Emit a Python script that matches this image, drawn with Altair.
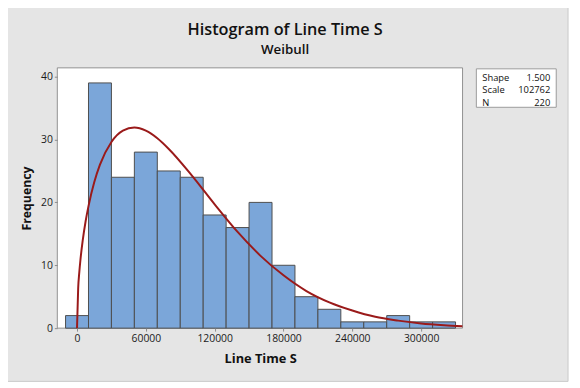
import altair as alt
import pandas as pd

# ---- data ----
bin_centers = [0, 20000, 40000, 60000, 80000, 100000, 120000, 140000, 160000,
               180000, 200000, 220000, 240000, 260000, 280000, 300000, 320000]
counts = [2, 39, 24, 28, 25, 24, 18, 16, 20, 10, 5, 3, 1, 1, 2, 1, 1]
bin_width = 20000

curve_x = [0, 1000, 2000, 3000, 5000, 7500, 10000, 15000, 20000, 30000, 40000,
           50000, 60000, 70000, 80000, 100000, 120000, 140000, 160000, 180000,
           200000, 220000, 240000, 260000, 280000, 300000, 320000, 336000]
curve_y = [0, 6.3, 8.9, 10.9, 14.0, 17.0, 19.4, 23.2, 26.0, 29.6, 31.4,
           31.9, 31.4, 30.2, 28.5, 24.3, 19.7, 15.3, 11.5, 8.4,
           5.9, 4.1, 2.8, 1.8, 1.2, 0.75, 0.47, 0.31]

x_ticks = [0, 60000, 120000, 180000, 240000, 300000]
y_ticks = [0, 10, 20, 30, 40]

stat_names = ["Shape", "Scale", "N"]
stat_values = ["1.500", "102762", "220"]

title_text = "Histogram of Line Time S"
subtitle_text = "Weibull"
x_title = "Line Time S"
y_title = "Frequency"

FONT = "Open Sans"
W, H = 411, 264

bars_df = pd.DataFrame({
    "start": [c - bin_width / 2 for c in bin_centers],
    "end": [c + bin_width / 2 for c in bin_centers],
    "count": counts,
    "zero": [0] * len(counts),
})
curve_df = pd.DataFrame({"x": curve_x, "y": curve_y})
one = pd.DataFrame({"a": [0]})

x_scale = alt.Scale(domain=[-17190, 336110], nice=False, zero=False)
y_scale = alt.Scale(domain=[0, 41.4], nice=False, zero=False)

x_axis = alt.Axis(values=x_ticks, title=x_title, format="d", grid=False, domain=False,
                  tickColor="#8c8c8c", tickSize=3, labelFont=FONT, labelFontSize=10.5,
                  labelColor="#1a1a1a", labelPadding=3, titleFont=FONT, titleFontSize=13,
                  titleFontWeight="bold", titleColor="#111", titleX=205.7, titleY=31,
                  titleBaseline="middle", titleAlign="center", zindex=2)
y_axis = alt.Axis(values=y_ticks, title=y_title, grid=False, domain=False,
                  tickColor="#8c8c8c", tickSize=3, labelFont=FONT, labelFontSize=10.5,
                  labelColor="#1a1a1a", labelPadding=2, titleFont=FONT, titleFontSize=12.5,
                  titleFontWeight="bold", titleColor="#111", titleX=-31, titleY=132,
                  titleAngle=-90, titleBaseline="middle", titleAlign="center", zindex=2)

# outer gray panel (right/bottom border visible)
panel = alt.Chart(one).mark_rect(fill="#e5e5e5", stroke="#c9c9c9", strokeWidth=1).encode(
    x=alt.value(-60), x2=alt.value(518), y=alt.value(-70), y2=alt.value(318))

plot_bg = alt.Chart(one).mark_rect(fill="white", stroke="#8f8f8f", strokeWidth=1).encode(
    x=alt.value(0), x2=alt.value(W), y=alt.value(0), y2=alt.value(H))

bars = alt.Chart(bars_df).mark_rect(fill="#7ba6d9", stroke="#4d4d4d", strokeWidth=1).encode(
    x=alt.X("start:Q", scale=x_scale, axis=x_axis),
    x2="end:Q",
    y=alt.Y("count:Q", scale=y_scale, axis=y_axis),
    y2="zero:Q",
)

curve = alt.Chart(curve_df).mark_line(color="#9a1a1a", strokeWidth=2, interpolate="monotone").encode(
    x=alt.X("x:Q", scale=x_scale, axis=x_axis),
    y=alt.Y("y:Q", scale=y_scale, axis=y_axis),
)

stat_box = alt.Chart(one).mark_rect(fill="white", stroke="#9a9a9a", strokeWidth=1).encode(
    x=alt.value(425), x2=alt.value(506), y=alt.value(1), y2=alt.value(40))

stat_layers = []
for i, (name, val) in enumerate(zip(stat_names, stat_values)):
    row_df = pd.DataFrame({"name": [name], "value": [val]})
    ypos = 10.3 + 12.6 * i
    stat_layers.append(alt.Chart(row_df).mark_text(
        align="left", baseline="middle", font=FONT, fontSize=9.5, color="#111").encode(
        x=alt.value(431), y=alt.value(ypos), text="name:N"))
    stat_layers.append(alt.Chart(row_df).mark_text(
        align="right", baseline="middle", font=FONT, fontSize=9.5, color="#111").encode(
        x=alt.value(500), y=alt.value(ypos), text="value:N"))

title_t = alt.Chart(pd.DataFrame({"t": [title_text]})).mark_text(
    align="center", baseline="alphabetic", font=FONT, fontSize=16.5, fontWeight=600,
    color="#111").encode(x=alt.value(231), y=alt.value(-33.3), text="t:N")
subtitle_t = alt.Chart(pd.DataFrame({"t": [subtitle_text]})).mark_text(
    align="center", baseline="alphabetic", font=FONT, fontSize=13.5, fontWeight=600,
    color="#111").encode(x=alt.value(231), y=alt.value(-14.3), text="t:N")

chart = alt.layer(
    panel, plot_bg, bars, curve, stat_box, *stat_layers, title_t, subtitle_t
).properties(
    width=W, height=H,
    autosize=alt.AutoSizeParams(type="none"),
    padding={"left": 50, "top": 58, "right": 111, "bottom": 58},
    background="white",
).configure_view(stroke=None, fill=None)

chart.save("out.html", embed_options={"renderer": "svg", "actions": False})
